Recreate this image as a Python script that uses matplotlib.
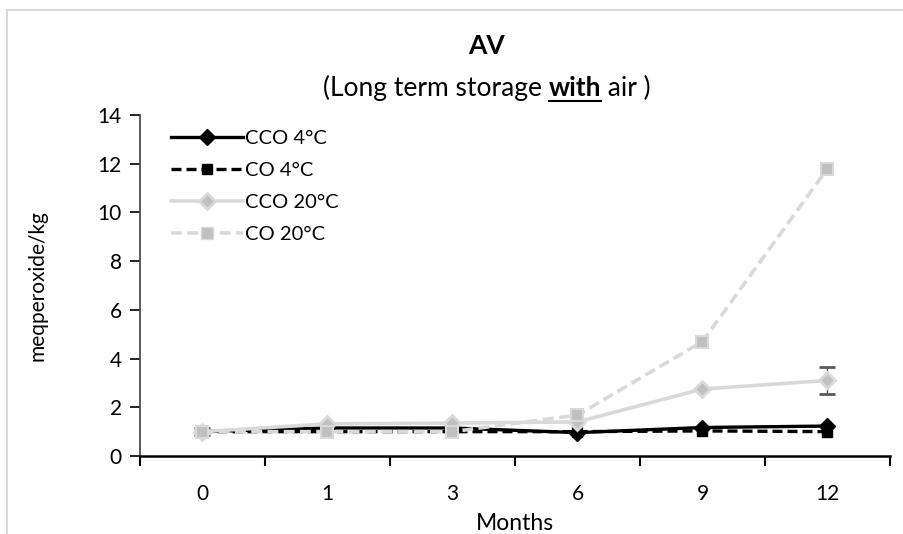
import matplotlib
matplotlib.use("Agg")
import matplotlib.pyplot as plt
from matplotlib.patches import Rectangle
from matplotlib.lines import Line2D

plt.rcParams['font.family'] = ['Lato', 'DejaVu Sans']

months = ['0', '1', '3', '6', '9', '12']
cco_4 = [1.0, 1.15, 1.15, 0.96, 1.17, 1.23]
co_4 = [1.0, 1.0, 1.0, 1.0, 1.03, 1.0]
cco_20 = [1.0, 1.32, 1.35, 1.4, 2.75, 3.1]
cco_20_err = [0.15, 0.0, 0.0, 0.0, 0.0, 0.57]
co_20 = [1.0, 1.0, 1.0, 1.68, 4.7, 11.8]

fig = plt.figure(figsize=(9.04, 5.34), dpi=100)
ax = fig.add_axes([140 / 904, 1 - 456 / 534, 750 / 904, 341 / 534])

x = list(range(len(months)))
ax.plot(x, cco_4, color='black', lw=2.4, marker='D', ms=8,
        mfc='black', mec='black', label='CCO 4°C', zorder=3)
ax.plot(x, co_4, color='black', lw=2.4, ls=(0, (3, 1.5)), marker='s', ms=7,
        mfc='black', mec='black', label='CO 4°C', zorder=3)
ax.errorbar(x, cco_20, yerr=cco_20_err, color='#d9d9d9', lw=2.6, marker='D', ms=8,
            mfc='#c0c0c0', mec='#d9d9d9', mew=2, ecolor='#595959', elinewidth=1,
            capsize=6, capthick=1, label='CCO 20°C', zorder=4)
ax.plot(x, co_20, color='#d9d9d9', lw=2.6, ls=(0, (3, 1.5)), marker='s', ms=9,
        mfc='#c0c0c0', mec='#d9d9d9', mew=1.5, label='CO 20°C', zorder=5)

ax.set_xlim(-0.5, len(months) - 0.5)
ax.set_ylim(0, 14)
ax.set_yticks(range(0, 15, 2))
ax.set_xticks([i - 0.5 for i in range(len(months) + 1)])
ax.set_xticklabels([])
ax.set_xticks(x, minor=True)
ax.set_xticklabels(months, minor=True)
ax.tick_params(axis='x', which='major', length=7, width=1.5, direction='out')
ax.tick_params(axis='x', which='minor', length=0, pad=20, labelsize=15)
ax.tick_params(axis='y', length=7, width=1.2, direction='out', labelsize=15, pad=6)
for s in ['top', 'right']:
    ax.spines[s].set_visible(False)
ax.spines['bottom'].set_linewidth(1.8)
ax.spines['left'].set_linewidth(1.2)
ax.spines['left'].set_color('#404040')

ax.set_xlabel('Months', fontsize=16.5, labelpad=7)
ax.set_ylabel('meqperoxide/kg', fontsize=15, labelpad=36)

handles = [
    Line2D([], [], color='black', lw=2.4, marker='D', ms=8),
    Line2D([], [], color='black', lw=2.4, ls=(0, (3, 1.5)), marker='s', ms=7),
    Line2D([], [], color='#d9d9d9', lw=2.6, marker='D', ms=8, mfc='#c0c0c0', mec='#d9d9d9', mew=2),
    Line2D([], [], color='#d9d9d9', lw=2.6, ls=(0, (3, 1.5)), marker='s', ms=9, mfc='#c0c0c0', mec='#d9d9d9'),
]
ax.legend(handles, ['CCO 4°C', 'CO 4°C', 'CCO 20°C', 'CO 20°C'], loc='upper left',
          bbox_to_anchor=(0.017, 1.01), frameon=False, fontsize=14.5,
          handlelength=3.6, handletextpad=0.1, labelspacing=0.75)

# chart border
fig.patches.append(Rectangle((7 / 904, -0.1), 1.2, 1 - 10 / 534 + 0.1,
                             transform=fig.transFigure, fill=False,
                             edgecolor='#d9d9d9', lw=1.5))

cx = 487
fig.text(cx / 904, 1 - 46 / 534, 'AV', ha='center', va='center', fontsize=19, fontweight='bold')

# subtitle with bold underlined "with"
renderer = fig.canvas.get_renderer()
parts = [('(Long term storage ', 'normal'), ('with', 'bold'), (' air )', 'normal')]
texts = [fig.text(0, 0, p, fontsize=19, fontweight=w, va='center') for p, w in parts]
widths = [t.get_window_extent(renderer).width for t in texts]
start = cx - sum(widths) / 2
ypos = 1 - 88 / 534
for t, w in zip(texts, widths):
    t.set_position((start / 904, ypos))
    if t.get_text() == 'with':
        fig.add_artist(Line2D([start / 904, (start + w) / 904], [ypos - 13 / 534] * 2,
                              transform=fig.transFigure, color='black', lw=1.5))
    start += w

fig.savefig('out.png', dpi=100)
